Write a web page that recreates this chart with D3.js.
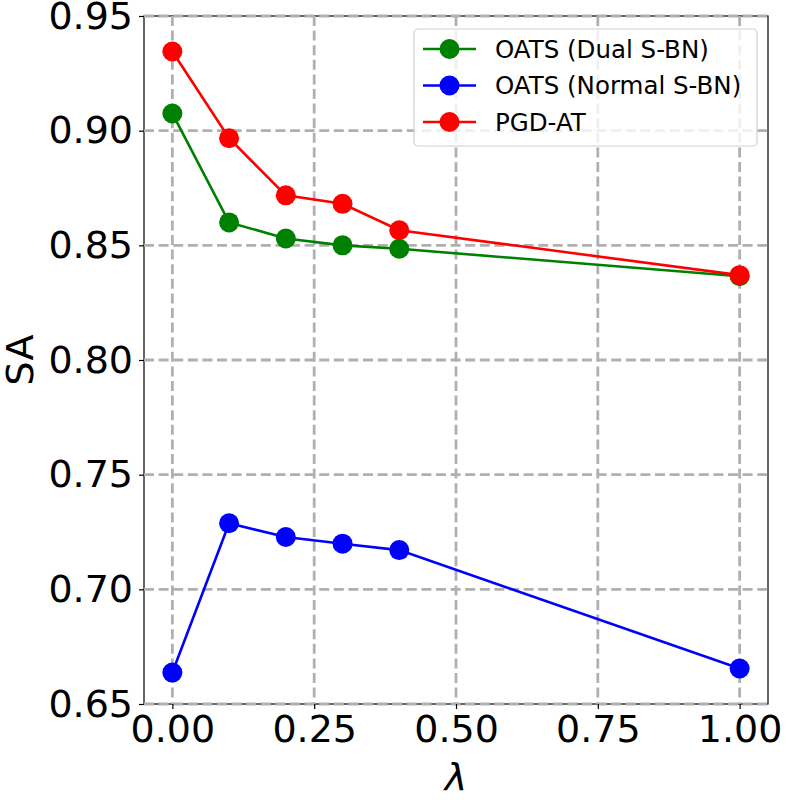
<!DOCTYPE html>
<html>
<head>
<meta charset="utf-8">
<script src="https://cdn.jsdelivr.net/npm/d3@7"></script>
<style>
  body { margin: 0; background: #fff; }
  text { font-family: "DejaVu Sans", sans-serif; }
</style>
</head>
<body>
<svg width="800" height="800"></svg>
<script>
// data
const lambdas = [0.0, 0.1, 0.2, 0.3, 0.4, 1.0];
const dualSBN = [0.9075, 0.860, 0.853, 0.850, 0.8485, 0.8365];
const normalSBN = [0.6637, 0.7288, 0.7228, 0.7199, 0.7171, 0.6655];
const pgdAT = [0.9345, 0.8967, 0.8718, 0.8681, 0.8566, 0.8370];
const xTicks = [0.0, 0.25, 0.5, 0.75, 1.0];
const yTicks = [0.65, 0.70, 0.75, 0.80, 0.85, 0.90, 0.95];

const series = [
  { name: "OATS (Dual S-BN)", color: "#008000", values: dualSBN },
  { name: "OATS (Normal S-BN)", color: "#0000ff", values: normalSBN },
  { name: "PGD-AT", color: "#ff0000", values: pgdAT }
];

const svg = d3.select("svg");
const mLeft = 144, mRight = 768, mTop = 16, mBottom = 704;

const x = d3.scaleLinear().domain([-0.05, 1.05]).range([mLeft, mRight]);
const y = d3.scaleLinear().domain([0.65, 0.95]).range([mBottom, mTop]);

// spines
svg.append("rect")
  .attr("x", mLeft).attr("y", mTop)
  .attr("width", mRight - mLeft).attr("height", mBottom - mTop)
  .attr("fill", "none").attr("stroke", "#000").attr("stroke-width", 1.2);

// grid
const grid = svg.append("g").attr("stroke", "#b0b0b0").attr("stroke-width", 2.8)
  .attr("stroke-dasharray", "10,4.6");
grid.selectAll(".gx").data(xTicks).enter().append("line")
  .attr("x1", d => x(d)).attr("x2", d => x(d))
  .attr("y1", mTop).attr("y2", mBottom);
grid.selectAll(".gy").data(yTicks).enter().append("line")
  .attr("y1", d => y(d)).attr("y2", d => y(d))
  .attr("x1", mLeft).attr("x2", mRight);

// axes
const xAxis = svg.append("g").attr("transform", `translate(0,${mBottom})`)
  .call(d3.axisBottom(x).tickValues(xTicks).tickFormat(d3.format(".2f")).tickSizeOuter(0).tickSize(5).tickPadding(6));
const yAxis = svg.append("g").attr("transform", `translate(${mLeft},0)`)
  .call(d3.axisLeft(y).tickValues(yTicks).tickFormat(d3.format(".2f")).tickSizeOuter(0).tickSize(5).tickPadding(6));
[xAxis, yAxis].forEach(a => {
  a.select(".domain").remove();
  a.selectAll(".tick line").attr("stroke", "#000").attr("stroke-width", 1.2);
  a.selectAll(".tick text").attr("font-size", 38).attr("fill", "#000")
    .style("font-family", "DejaVu Sans");
});

// axis labels
svg.append("text")
  .attr("transform", `translate(20,${(mTop + mBottom) / 2}) rotate(-90)`)
  .attr("text-anchor", "middle").attr("dominant-baseline", "central")
  .attr("font-size", 38).text("SA");
svg.append("text")
  .attr("x", (mLeft + mRight) / 2).attr("y", 790)
  .attr("text-anchor", "middle").attr("font-size", 38)
  .attr("font-style", "italic").text("λ");

// lines and markers
const line = d3.line().x((d, i) => x(lambdas[i])).y(d => y(d));
series.forEach(s => {
  svg.append("path").datum(s.values)
    .attr("d", line).attr("fill", "none")
    .attr("stroke", s.color).attr("stroke-width", 2.6);
  svg.selectAll(null).data(s.values).enter().append("circle")
    .attr("cx", (d, i) => x(lambdas[i])).attr("cy", d => y(d))
    .attr("r", 10).attr("fill", s.color);
});

// legend
const legend = svg.append("g");
legend.append("rect")
  .attr("x", 414).attr("y", 29).attr("width", 343).attr("height", 117)
  .attr("rx", 4).attr("fill", "#fff").attr("fill-opacity", 0.8)
  .attr("stroke", "#d0d0d0").attr("stroke-width", 1.2);
series.forEach((s, i) => {
  const ly = 49 + i * 36.5;
  legend.append("line").attr("x1", 423).attr("x2", 476)
    .attr("y1", ly).attr("y2", ly).attr("stroke", s.color).attr("stroke-width", 2.6);
  legend.append("circle").attr("cx", 449.5).attr("cy", ly).attr("r", 10).attr("fill", s.color);
  legend.append("text").attr("x", 495).attr("y", ly)
    .attr("dominant-baseline", "central").attr("font-size", 24.5).text(s.name);
});
</script>
</body>
</html>
